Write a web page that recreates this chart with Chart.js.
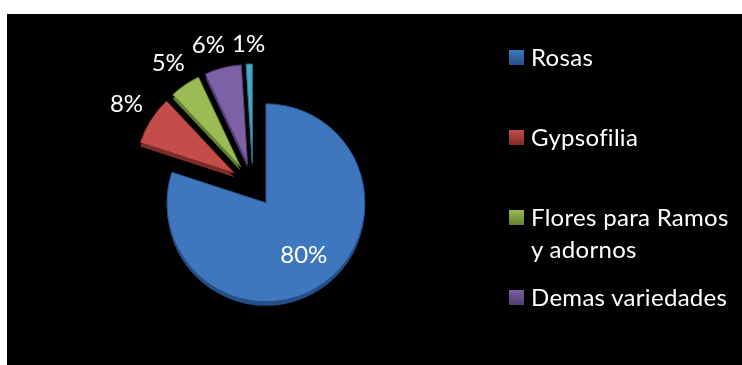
<!DOCTYPE html>
<html><head><meta charset="utf-8">
<script src="https://cdn.jsdelivr.net/npm/chart.js@4"></script>
<style>
html,body{margin:0;padding:0;background:#fff;width:742px;height:365px;overflow:hidden;position:relative;}
#frame{position:absolute;left:7px;top:14px;width:735px;height:351px;background:#000;}
#c{position:absolute;left:0;top:0;}
#legend{position:absolute;left:0;top:0;width:742px;height:365px;}
.item{position:absolute;left:509px;font-family:Lato,sans-serif;font-size:24px;letter-spacing:0.3px;color:#fff;line-height:32px;}
.box{position:absolute;left:0;top:9px;width:15px;height:15px;}
.txt{position:absolute;left:22px;top:0;white-space:nowrap;}
</style></head>
<body>
<div id="frame"></div>
<canvas id="c" width="742" height="365"></canvas>
<div id="legend"></div>
<script>
// ---- data ----
const categories = ["Rosas", "Gypsofilia", ["Flores para Ramos", "y adornos"], "Demas variedades", "Otras"];
const shares = [80, 8, 5, 6, 1];
const colors = ["#3F77BE", "#C44D4A", "#9BBB55", "#7D60A5", "#45A9C8"];
const rimColors = ["#244F86", "#7E2B29", "#62802F", "#4F3A72", "#2A7490"];
const explode = [22, 22, 22, 22, 22];

const total = shares.reduce((a, b) => a + b, 0);

const rimPlugin = {
  id: 'rim',
  afterDatasetUpdate(chart, args) {
    args.meta.data.forEach((arc, i) => {
      const d = explode[i] || 0;
      if (!d) return;
      const mid = (arc.startAngle + arc.endAngle) / 2;
      arc.x += Math.cos(mid) * d;
      arc.y += Math.sin(mid) * d;
    });
  },
  beforeDatasetsDraw(chart) {
    const ctx = chart.ctx;
    const meta = chart.getDatasetMeta(0);
    meta.data.forEach((arc, i) => {
      ctx.save();
      ctx.fillStyle = rimColors[i];
      ctx.beginPath();
      ctx.moveTo(arc.x, arc.y + 4);
      ctx.arc(arc.x, arc.y + 4, arc.outerRadius, arc.startAngle, arc.endAngle);
      ctx.closePath();
      ctx.fill();
      ctx.restore();
    });
  },
  afterDatasetsDraw(chart) {
    const ctx = chart.ctx;
    const meta = chart.getDatasetMeta(0);
    ctx.save();
    ctx.fillStyle = '#fff';
    ctx.font = '24px Lato, sans-serif';
    ctx.textAlign = 'center';
    ctx.textBaseline = 'middle';
    const h = 18, gap = 10, minSep = 7;
    const boxes = meta.data.map((arc, i) => {
      const text = Math.round(shares[i] / total * 100) + '%';
      const w = ctx.measureText(text).width;
      const mid = (arc.startAngle + arc.endAngle) / 2;
      const cx = Math.cos(mid), cy = Math.sin(mid);
      const inside = (arc.endAngle - arc.startAngle) > 1;
      const dist = inside ? arc.outerRadius * 0.65
        : arc.outerRadius + gap + Math.abs(cx) * w / 2 + Math.abs(cy) * h / 2;
      return { text, w, inside, x: arc.x + cx * dist, y: arc.y + cy * dist };
    });
    // resolve overlaps between neighbouring outside labels (push the earlier one away)
    for (let i = boxes.length - 2; i >= 0; i--) {
      const a = boxes[i], b = boxes[i + 1];
      if (a.inside || b.inside) continue;
      const overlapY = Math.abs(a.y - b.y) < h;
      const need = (a.w + b.w) / 2 + minSep - (b.x - a.x);
      if (overlapY && need > 0) a.x -= need;
    }
    boxes.forEach(b => ctx.fillText(b.text, b.x, b.y));
    ctx.restore();
  }
};

new Chart(document.getElementById('c'), {
  type: 'pie',
  data: {
    labels: categories,
    datasets: [{
      data: shares,
      backgroundColor: colors,
      borderColor: rimColors,
      borderWidth: 1,
      clip: false
    }]
  },
  options: {
    responsive: false,
    animation: false,
    radius: 99,
    layout: { padding: { left: 0, right: 236, top: 5, bottom: 0 } },
    plugins: { legend: { display: false }, tooltip: { enabled: false } }
  },
  plugins: [rimPlugin]
});

// ---- legend (Excel-style, fixed pitch; items that do not fit are dropped) ----
const legend = document.getElementById('legend');
const frameBottom = 14 + 351;
categories.forEach((lab, i) => {
  const lines = Array.isArray(lab) ? lab : [lab];
  const top = 41 + 80 * i;
  if (top + 32 > frameBottom) return;
  const item = document.createElement('div');
  item.className = 'item';
  item.style.top = top + 'px';
  const box = document.createElement('div');
  box.className = 'box';
  box.style.background = 'linear-gradient(180deg,' + colors[i] + ',' + rimColors[i] + ')';
  const txt = document.createElement('div');
  txt.className = 'txt';
  txt.innerHTML = lines.join('<br>');
  item.appendChild(box);
  item.appendChild(txt);
  legend.appendChild(item);
});
</script>
</body></html>
